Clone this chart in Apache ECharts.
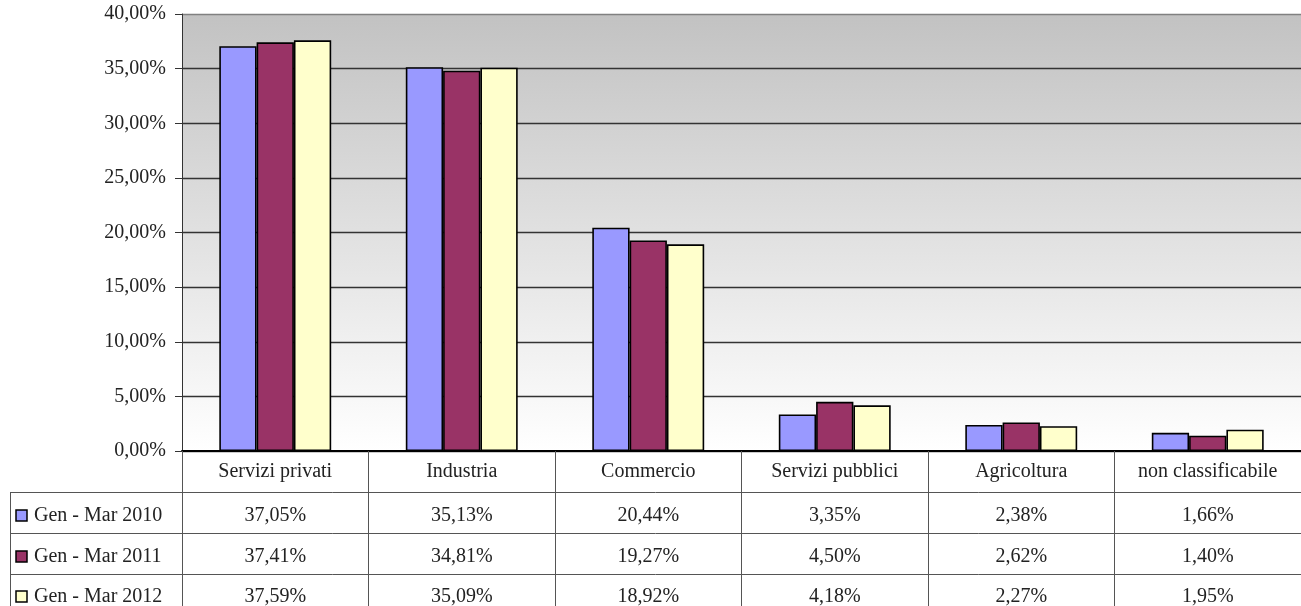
<!DOCTYPE html>
<html>
<head>
<meta charset="utf-8">
<script src="https://cdn.jsdelivr.net/npm/echarts@6/dist/echarts.min.js"></script>
<style>html,body{margin:0;padding:0;background:#fff;}#c{width:1301px;height:606px;}</style>
</head>
<body>
<div id="c"></div>
<script>
const categories = ['Servizi privati', 'Industria', 'Commercio', 'Servizi pubblici', 'Agricoltura', 'non classificabile'];
const seriesNames = ['Gen - Mar 2010', 'Gen - Mar 2011', 'Gen - Mar 2012'];
const s2010 = [37.05, 35.13, 20.44, 3.35, 2.38, 1.66];
const s2011 = [37.41, 34.81, 19.27, 4.50, 2.62, 1.40];
const s2012 = [37.59, 35.09, 18.92, 4.18, 2.27, 1.95];
const colors = ['#9999FF', '#993366', '#FFFFCC'];
const allSeries = [s2010, s2011, s2012];

const FONT = '"Liberation Serif", "DejaVu Serif", serif';
const fmt = v => v.toFixed(2).replace('.', ',') + '%';

const chart = echarts.init(document.getElementById('c'));
const option = {
  animation: false,
  grid: {
    left: 182, top: 14, width: 1128, bottom: 155,
    show: true, borderWidth: 0,
    backgroundColor: new echarts.graphic.LinearGradient(0, 0, 0, 1, [
      {offset: 0, color: '#c2c2c2'}, {offset: 1, color: '#ffffff'}
    ])
  },
  xAxis: {
    type: 'category', data: categories,
    axisLine: {lineStyle: {color: '#000', width: 2}},
    axisTick: {show: true, interval: 0, length: 155, lineStyle: {color: '#555', width: 1}},
    axisLabel: {interval: 0, margin: 11, fontFamily: FONT, fontSize: 20, color: '#222'}
  },
  yAxis: {
    type: 'value', min: 0, max: 40, interval: 5,
    axisLine: {show: true, lineStyle: {color: '#333', width: 1}},
    axisTick: {show: true, length: 7, lineStyle: {color: '#333'}},
    axisLabel: {margin: 16, fontFamily: FONT, fontSize: 20, color: '#222', formatter: v => fmt(v)},
    splitLine: {show: true, lineStyle: {
      color: ['#333', '#333', '#333', '#333', '#333', '#333', '#333', '#333', '#808080'],
      width: 1.3
    }}
  },
  series: allSeries.map((d, i) => ({
    type: 'bar', name: seriesNames[i], data: d,
    barGap: '0%', barCategoryGap: '40%',
    itemStyle: {color: colors[i], borderColor: '#000', borderWidth: 1.6}
  }))
};
chart.setOption(option);

// Data table below the chart
const rowTop = [492.5, 533.5, 574.5];
const rowCenter = [516, 557, 597];
const g = [];
rowTop.forEach(y => g.push({type: 'line', shape: {x1: 10, y1: y, x2: 1301, y2: y}, style: {stroke: '#555', lineWidth: 1}, z: 10}));
g.push({type: 'line', shape: {x1: 10.5, y1: 492.5, x2: 10.5, y2: 606}, style: {stroke: '#555', lineWidth: 1}, z: 10});
seriesNames.forEach((name, i) => {
  g.push({type: 'rect', shape: {x: 16, y: rowCenter[i] - 6, width: 11, height: 11},
    style: {fill: colors[i], stroke: '#000', lineWidth: 1.5}, z: 10});
  g.push({type: 'text', x: 34, y: rowCenter[i], style: {text: name, font: '20px ' + FONT, fill: '#222', textVerticalAlign: 'middle', textAlign: 'left'}, z: 10});
  allSeries[i].forEach((v, j) => {
    const cx = chart.convertToPixel({xAxisIndex: 0}, categories[j]);
    g.push({type: 'text', x: cx, y: rowCenter[i], style: {text: fmt(v), font: '20px ' + FONT, fill: '#222', textAlign: 'center', textVerticalAlign: 'middle'}, z: 10});
  });
});
chart.setOption({graphic: g});
</script>
</body>
</html>
